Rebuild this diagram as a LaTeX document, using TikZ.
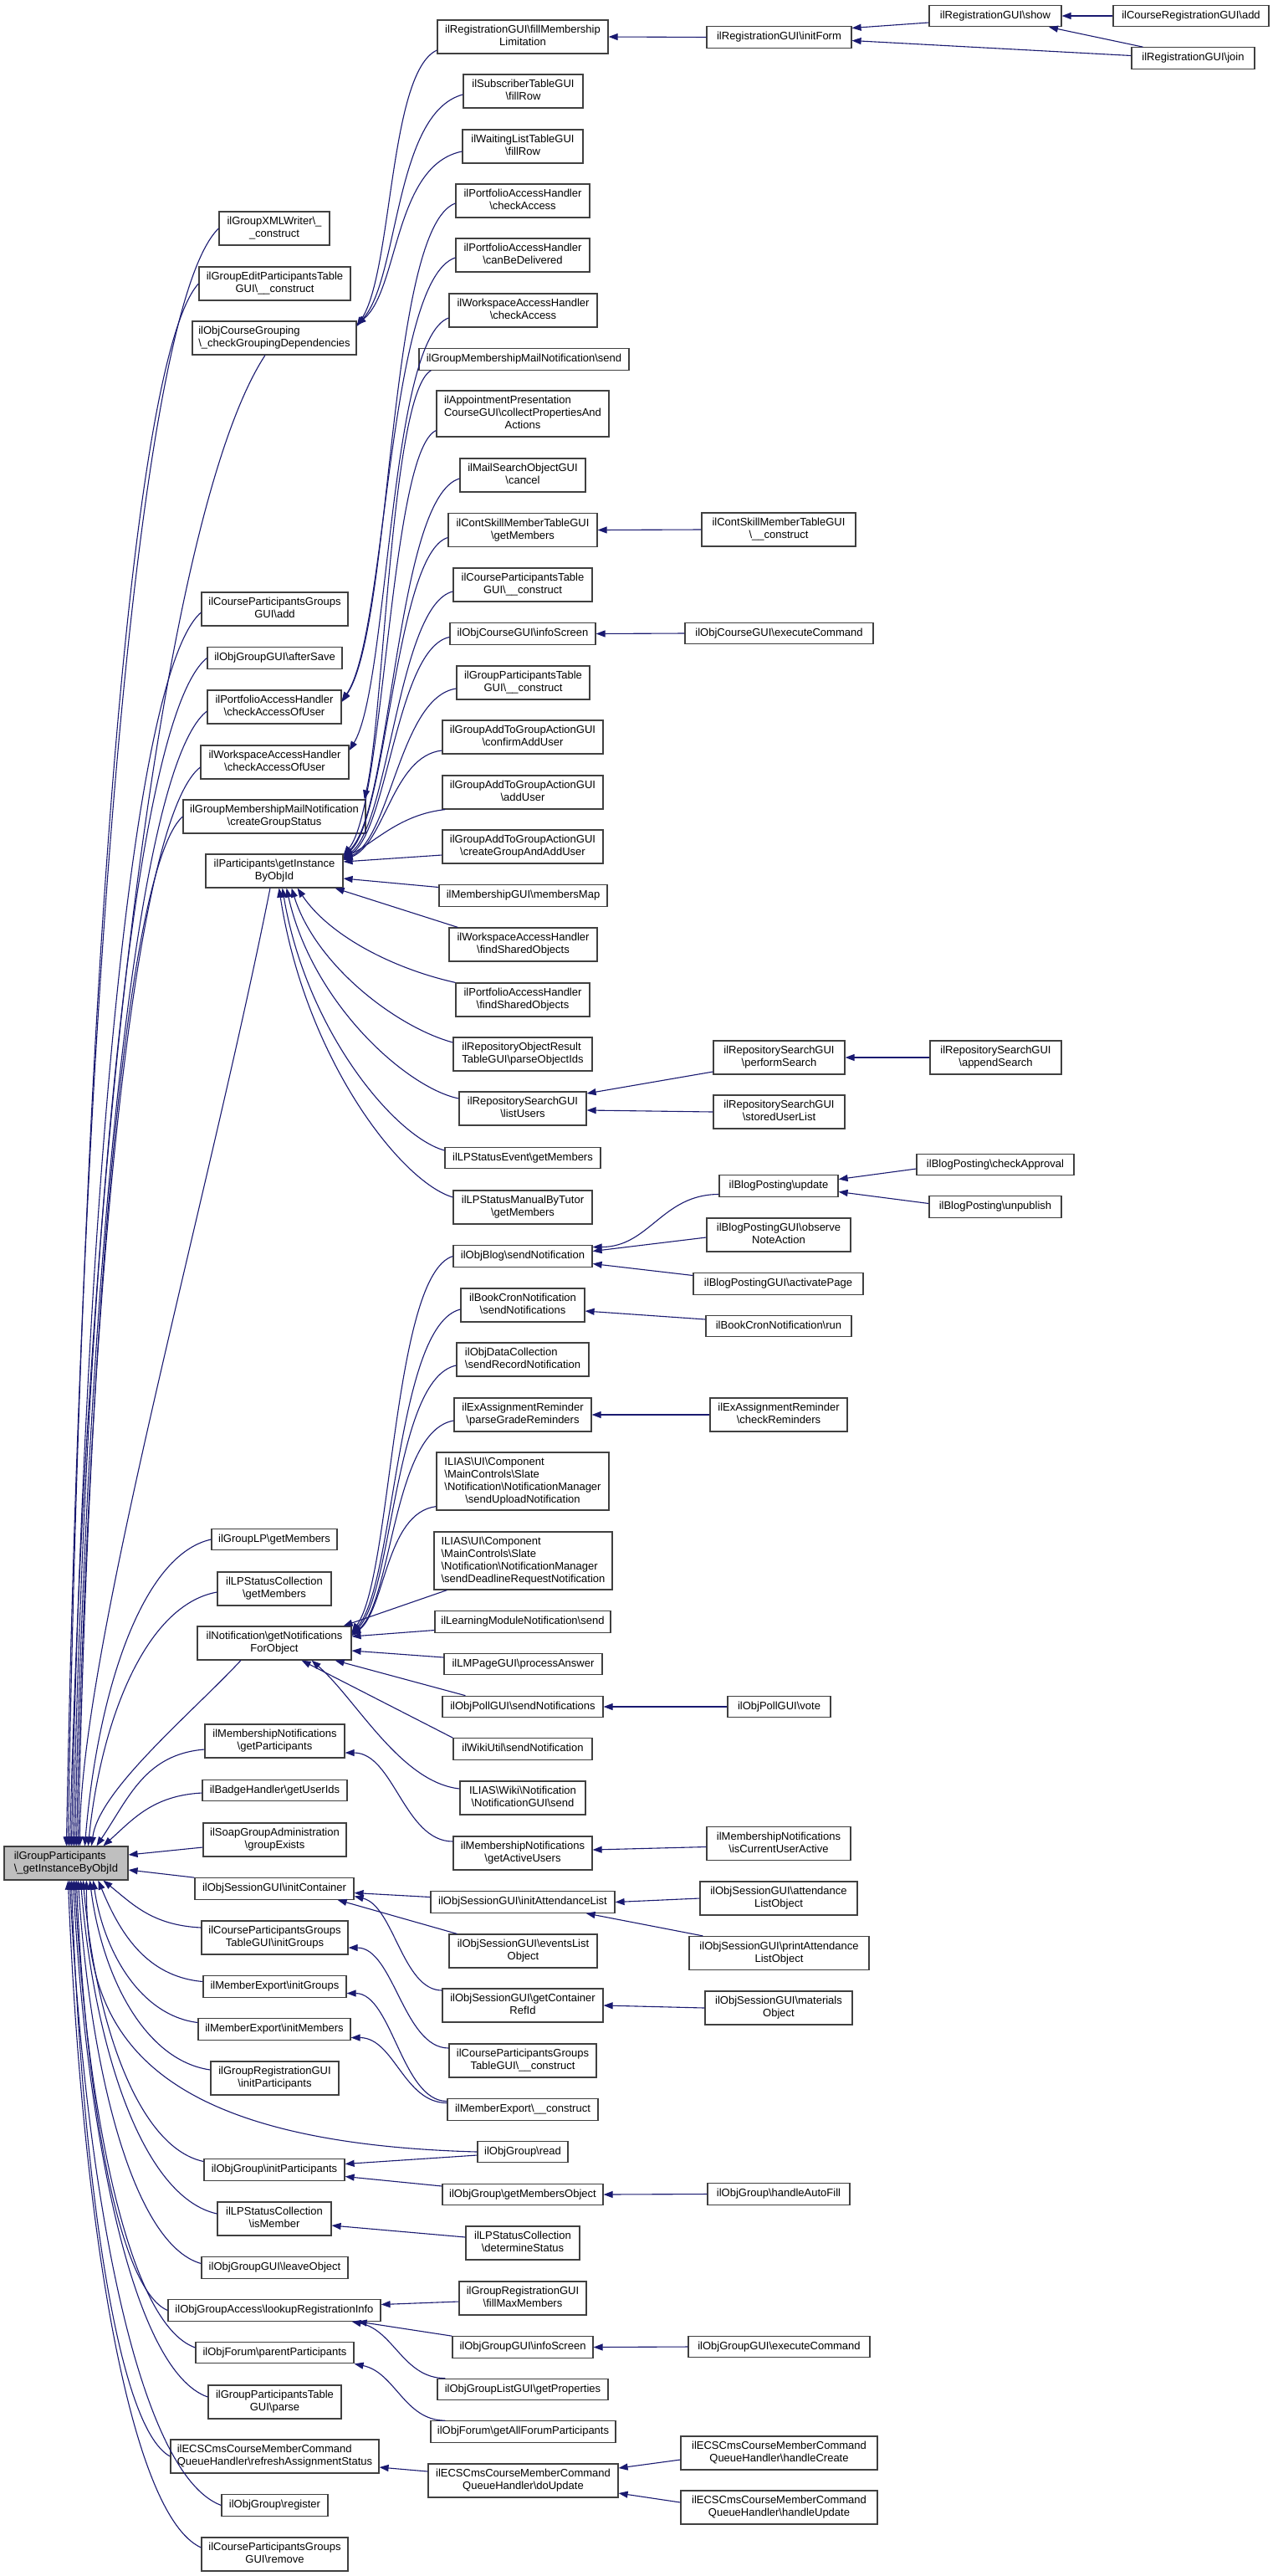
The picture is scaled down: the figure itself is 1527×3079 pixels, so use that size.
\documentclass[tikz,border=0pt]{standalone}
\usepackage{fontspec}
\setmainfont{Liberation Sans}
\usetikzlibrary{arrows.meta,calc}
\definecolor{edgec}{RGB}{25,25,112}
\newcommand\bsl{\textbackslash}
\newcommand\TL[2]{\begin{tabular}{@{}l@{}}#1\\\multicolumn{1}{@{}c@{}}{#2}\end{tabular}}
\newcommand\SL[1]{\begin{tabular}{@{}c@{}}#1\end{tabular}}
\newcommand\nd[6]{\node[box,minimum width=#4pt,minimum height=#5pt] (#1) at (#2,#3) {#6};}
\newcommand\cc[6]{\draw[e] let \p1=#1, \p2=#2 in (\p1) .. controls ({\x1+#3*((\x2)-(\x1))},{\y1+#4*((\y2)-(\y1))}) and ({\x2+#5*((\x1)-(\x2))},{\y2+#6*((\y1)-(\y2))}) .. (\p2);}
\tikzset{
 box/.style={draw=black!75, line width=1.2pt, fill=white, inner sep=0pt, rectangle, font=\fontsize{13}{15}\selectfont},
 e/.style={draw=edgec, line width=1.1pt, -{Triangle[length=11pt,width=8pt]}},
}
\begin{document}
\begin{tikzpicture}[x=1pt,y=-1pt]
\fill[white] (0,0) rectangle (1527,3079);
\useasboundingbox (0,0) rectangle (1527,3079);
% ---------- main node
\node[box,fill=black!25,minimum width=148pt,minimum height=40pt] (G) at (79,2227) {\TL{ilGroupParticipants}{\bsl\_getInstanceByObjId}};
% ---------- top chain
\nd{cra}{1424}{19}{186}{25.5}{\SL{ilCourseRegistrationGUI\bsl{}add}}
\nd{show}{1190}{19}{158}{25.5}{\SL{ilRegistrationGUI\bsl{}show}}
\nd{join}{1426.5}{69.5}{147}{25.5}{\SL{ilRegistrationGUI\bsl{}join}}
\nd{initForm}{931.5}{44.5}{173}{25.5}{\SL{ilRegistrationGUI\bsl{}initForm}}
% ---------- column 3
\nd{fml}{625}{44}{204}{40}{\TL{ilRegistrationGUI\bsl{}fillMembership}{Limitation}}
\nd{sub}{625.5}{109}{143}{40}{\TL{ilSubscriberTableGUI}{\bsl{}fillRow}}
\nd{wait}{625}{175}{144}{40}{\TL{ilWaitingListTableGUI}{\bsl{}fillRow}}
\nd{pca}{625}{240}{160}{40}{\TL{ilPortfolioAccessHandler}{\bsl{}checkAccess}}
\nd{pcd}{625}{305}{160}{40}{\TL{ilPortfolioAccessHandler}{\bsl{}canBeDelivered}}
\nd{wca}{625.5}{371}{177}{40}{\TL{ilWorkspaceAccessHandler}{\bsl{}checkAccess}}
\nd{gms}{626.5}{429.5}{251}{25.5}{\SL{ilGroupMembershipMailNotification\bsl{}send}}
\nd{app}{625}{494.5}{206}{55}{\TL{ilAppointmentPresentation\\CourseGUI\bsl{}collectPropertiesAnd}{Actions}}
\nd{mso}{625}{568}{150}{40}{\TL{ilMailSearchObjectGUI}{\bsl{}cancel}}
\nd{csg}{625}{633.5}{178}{40}{\TL{ilContSkillMemberTableGUI}{\bsl{}getMembers}}
\nd{cpt}{625}{699}{166}{40}{\TL{ilCourseParticipantsTable}{GUI\bsl\_\_construct}}
\nd{oci}{625}{757.5}{174}{25.5}{\SL{ilObjCourseGUI\bsl{}infoScreen}}
\nd{gpt}{625.5}{816}{159}{40}{\TL{ilGroupParticipantsTable}{GUI\bsl\_\_construct}}
\nd{gac}{625}{881}{192}{40}{\TL{ilGroupAddToGroupActionGUI}{\bsl{}confirmAddUser}}
\nd{gaa}{625}{947}{192}{40}{\TL{ilGroupAddToGroupActionGUI}{\bsl{}addUser}}
\nd{gag}{625}{1012}{192}{40}{\TL{ilGroupAddToGroupActionGUI}{\bsl{}createGroupAndAddUser}}
\nd{mgm}{625.5}{1070.5}{201}{25.5}{\SL{ilMembershipGUI\bsl{}membersMap}}
\nd{wfs}{625.5}{1129}{177}{40}{\TL{ilWorkspaceAccessHandler}{\bsl{}findSharedObjects}}
\nd{pfs}{625}{1195}{160}{40}{\TL{ilPortfolioAccessHandler}{\bsl{}findSharedObjects}}
\nd{rpo}{625}{1260}{166}{40}{\TL{ilRepositoryObjectResult}{TableGUI\bsl{}parseObjectIds}}
\nd{rlu}{625}{1325}{152}{40}{\TL{ilRepositorySearchGUI}{\bsl{}listUsers}}
\nd{lpe}{625}{1384}{186}{25.5}{\SL{ilLPStatusEvent\bsl{}getMembers}}
\nd{lpm}{625}{1443}{166}{40}{\TL{ilLPStatusManualByTutor}{\bsl{}getMembers}}
\nd{obs}{625}{1501.5}{166}{25.5}{\SL{ilObjBlog\bsl{}sendNotification}}
\nd{bcs}{625}{1560}{148}{40}{\TL{ilBookCronNotification}{\bsl{}sendNotifications}}
\nd{dcs}{625}{1625}{158}{40}{\TL{ilObjDataCollection}{\bsl{}sendRecordNotification}}
\nd{exp}{625}{1691}{164}{40}{\TL{ilExAssignmentReminder}{\bsl{}parseGradeReminders}}
\nd{ilu}{625}{1770.5}{206}{69}{\TL{ILIAS\bsl{}UI\bsl{}Component\\\bsl{}MainControls\bsl{}Slate\\\bsl{}Notification\bsl{}NotificationManager}{\bsl{}sendUploadNotification}}
\nd{ild}{625.5}{1865.5}{213}{69}{\TL{ILIAS\bsl{}UI\bsl{}Component\\\bsl{}MainControls\bsl{}Slate\\\bsl{}Notification\bsl{}NotificationManager}{\bsl{}sendDeadlineRequestNotification}}
\nd{lmn}{625}{1938.5}{210}{25.5}{\SL{ilLearningModuleNotification\bsl{}send}}
\nd{lmp}{625.5}{1989}{189}{25.5}{\SL{ilLMPageGUI\bsl{}processAnswer}}
\nd{ops}{625}{2040}{192}{25.5}{\SL{ilObjPollGUI\bsl{}sendNotifications}}
\nd{wik}{625}{2090.5}{166}{25.5}{\SL{ilWikiUtil\bsl{}sendNotification}}
\nd{iwn}{625}{2149}{150}{40}{\TL{ILIAS\bsl{}Wiki\bsl{}Notification}{\bsl{}NotificationGUI\bsl{}send}}
\nd{mau}{625}{2215}{166}{40}{\TL{ilMembershipNotifications}{\bsl{}getActiveUsers}}
\nd{sal}{625}{2273.5}{220}{25.5}{\SL{ilObjSessionGUI\bsl{}initAttendanceList}}
\nd{sel}{625.5}{2332}{177}{40}{\TL{ilObjSessionGUI\bsl{}eventsList}{Object}}
\nd{scr}{625}{2397}{192}{40}{\TL{ilObjSessionGUI\bsl{}getContainer}{RefId}}
\nd{cgc}{625}{2463}{176}{40}{\TL{ilCourseParticipantsGroups}{TableGUI\bsl\_\_construct}}
\nd{mec}{625}{2521.5}{180}{25.5}{\SL{ilMemberExport\bsl\_\_construct}}
\nd{ogr}{625}{2572}{108}{25.5}{\SL{ilObjGroup\bsl{}read}}
\nd{ogm}{625}{2623}{192}{25.5}{\SL{ilObjGroup\bsl{}getMembersObject}}
\nd{lds}{625}{2681}{136}{40}{\TL{ilLPStatusCollection}{\bsl{}determineStatus}}
\nd{gfm}{625}{2747}{152}{40}{\TL{ilGroupRegistrationGUI}{\bsl{}fillMaxMembers}}
\nd{ggi}{625}{2805.5}{168}{25.5}{\SL{ilObjGroupGUI\bsl{}infoScreen}}
\nd{glp}{625}{2856}{204}{25.5}{\SL{ilObjGroupListGUI\bsl{}getProperties}}
\nd{ofa}{625.5}{2906.5}{221}{25.5}{\SL{ilObjForum\bsl{}getAllForumParticipants}}
\nd{edu}{625.5}{2965}{227}{40}{\TL{ilECSCmsCourseMemberCommand}{QueueHandler\bsl{}doUpdate}}
% ---------- column 2
\nd{gxw}{328}{273}{132}{40}{\TL{ilGroupXMLWriter\bsl\_}{\_construct}}
\nd{gep}{328.5}{339}{181}{40}{\TL{ilGroupEditParticipantsTable}{GUI\bsl\_\_construct}}
\nd{ocg}{328}{404}{196}{40}{\TL{ilObjCourseGrouping}{\bsl\_checkGroupingDependencies}}
\nd{cga}{328.5}{728}{175}{40}{\TL{ilCourseParticipantsGroups}{GUI\bsl{}add}}
\nd{oga}{328.5}{786.5}{161}{25.5}{\SL{ilObjGroupGUI\bsl{}afterSave}}
\nd{pau}{328}{845}{160}{40}{\TL{ilPortfolioAccessHandler}{\bsl{}checkAccessOfUser}}
\nd{wau}{328.5}{911}{177}{40}{\TL{ilWorkspaceAccessHandler}{\bsl{}checkAccessOfUser}}
\nd{gcs}{328}{976}{218}{40}{\TL{ilGroupMembershipMailNotification}{\bsl{}createGroupStatus}}
\nd{P}{328}{1041}{164}{40}{\TL{ilParticipants\bsl{}getInstance}{ByObjId}}
\nd{glm}{328}{1840}{150}{25.5}{\SL{ilGroupLP\bsl{}getMembers}}
\nd{lcm}{328}{1899}{136}{40}{\TL{ilLPStatusCollection}{\bsl{}getMembers}}
\nd{N}{328}{1964}{184}{40}{\TL{ilNotification\bsl{}getNotifications}{ForObject}}
\nd{mnp}{328.5}{2081}{167}{40}{\TL{ilMembershipNotifications}{\bsl{}getParticipants}}
\nd{bhu}{328.5}{2140}{173}{25.5}{\SL{ilBadgeHandler\bsl{}getUserIds}}
\nd{sge}{328.5}{2199}{171}{40}{\TL{ilSoapGroupAdministration}{\bsl{}groupExists}}
\nd{sic}{328}{2257.5}{190}{25.5}{\SL{ilObjSessionGUI\bsl{}initContainer}}
\nd{cgi}{328.5}{2316}{175}{40}{\TL{ilCourseParticipantsGroups}{TableGUI\bsl{}initGroups}}
\nd{meg}{328.5}{2374.5}{171}{25.5}{\SL{ilMemberExport\bsl{}initGroups}}
\nd{mem}{328}{2425.5}{182}{25.5}{\SL{ilMemberExport\bsl{}initMembers}}
\nd{grp}{328.5}{2484}{153}{40}{\TL{ilGroupRegistrationGUI}{\bsl{}initParticipants}}
\nd{ogp}{328}{2593.5}{168}{25.5}{\SL{ilObjGroup\bsl{}initParticipants}}
\nd{lim}{328}{2652}{136}{40}{\TL{ilLPStatusCollection}{\bsl{}isMember}}
\nd{glo}{328.5}{2710.5}{175}{25.5}{\SL{ilObjGroupGUI\bsl{}leaveObject}}
\nd{gal}{328}{2761.5}{254}{25.5}{\SL{ilObjGroupAccess\bsl{}lookupRegistrationInfo}}
\nd{ofp}{328.5}{2812}{189}{25.5}{\SL{ilObjForum\bsl{}parentParticipants}}
\nd{gpp}{328.5}{2871}{159}{40}{\TL{ilGroupParticipantsTable}{GUI\bsl{}parse}}
\nd{era}{328.5}{2936}{249}{40}{\TL{ilECSCmsCourseMemberCommand}{QueueHandler\bsl{}refreshAssignmentStatus}}
\nd{ogrg}{328.5}{2994.5}{127}{25.5}{\SL{ilObjGroup\bsl{}register}}
\nd{cgr}{328.5}{3053}{175}{40}{\TL{ilCourseParticipantsGroups}{GUI\bsl{}remove}}
% ---------- column 4
\nd{csc}{931}{633}{184}{40}{\TL{ilContSkillMemberTableGUI}{\bsl\_\_construct}}
\nd{oce}{931.5}{757}{225}{25.5}{\SL{ilObjCourseGUI\bsl{}executeCommand}}
\nd{rps}{931.5}{1264}{157}{40}{\TL{ilRepositorySearchGUI}{\bsl{}performSearch}}
\nd{rsu}{931.5}{1329}{157}{40}{\TL{ilRepositorySearchGUI}{\bsl{}storedUserList}}
\nd{bpu}{931}{1417.5}{142}{25.5}{\SL{ilBlogPosting\bsl{}update}}
\nd{bpo}{931}{1476}{172}{40}{\TL{ilBlogPostingGUI\bsl{}observe}{NoteAction}}
\nd{bpa}{930.5}{1534.5}{203}{25.5}{\SL{ilBlogPostingGUI\bsl{}activatePage}}
\nd{bcr}{931}{1585}{174}{25.5}{\SL{ilBookCronNotification\bsl{}run}}
\nd{exc}{931}{1691}{164}{40}{\TL{ilExAssignmentReminder}{\bsl{}checkReminders}}
\nd{opv}{931.5}{2040}{123}{25.5}{\SL{ilObjPollGUI\bsl{}vote}}
\nd{mca}{931}{2203.5}{172}{40}{\TL{ilMembershipNotifications}{\bsl{}isCurrentUserActive}}
\nd{sao}{931}{2269}{188}{40}{\TL{ilObjSessionGUI\bsl{}attendance}{ListObject}}
\nd{spa}{931.5}{2334.5}{215}{40}{\TL{ilObjSessionGUI\bsl{}printAttendance}{ListObject}}
\nd{smo}{931}{2400}{176}{40}{\TL{ilObjSessionGUI\bsl{}materials}{Object}}
\nd{oha}{931}{2622.5}{170}{25.5}{\SL{ilObjGroup\bsl{}handleAutoFill}}
\nd{gex}{931.5}{2805}{217}{25.5}{\SL{ilObjGroupGUI\bsl{}executeCommand}}
\nd{ehc}{931.5}{2932}{235}{40}{\TL{ilECSCmsCourseMemberCommand}{QueueHandler\bsl{}handleCreate}}
\nd{ehu}{931.5}{2997}{235}{40}{\TL{ilECSCmsCourseMemberCommand}{QueueHandler\bsl{}handleUpdate}}
% ---------- column 5
\nd{ras}{1190.5}{1264}{157}{40}{\TL{ilRepositorySearchGUI}{\bsl{}appendSearch}}
\nd{bca}{1190}{1392}{188}{25.5}{\SL{ilBlogPosting\bsl{}checkApproval}}
\nd{bun}{1190}{1442.5}{158}{25.5}{\SL{ilBlogPosting\bsl{}unpublish}}
% ================= edges
% top chain
\draw[e] (initForm.west) -- (fml.east);
\draw[e] ([yshift=-8pt]show.west) -- ([yshift=11pt]initForm.east);
\draw[e] ([yshift=3pt]join.west) -- ([yshift=-4pt]initForm.east);
\draw[e] ([xshift=-60pt]join.north) -- ([xshift=64pt]show.south);
\draw[e] (cra.west) -- (show.east);
% into checkGroupingDependencies
\cc{([yshift=-16pt]fml.west)}{([yshift=14pt]ocg.east)}{0.6}{0.08}{0.45}{0.2}
\cc{([yshift=-4pt]sub.west)}{([yshift=15pt]ocg.east)}{0.65}{0.08}{0.4}{0.2}
\cc{([yshift=-6pt]wait.west)}{([yshift=16pt]ocg.east)}{0.65}{0.08}{0.4}{0.2}
% access handlers, mail notification
\cc{([yshift=-3pt]pca.west)}{([yshift=6pt]pau.east)}{0.6}{0.05}{0.45}{0.15}
\cc{([yshift=-3pt]pcd.west)}{([yshift=7pt]pau.east)}{0.6}{0.05}{0.4}{0.15}
\cc{([yshift=-9pt]wca.west)}{([yshift=14pt]wau.east)}{0.6}{0.05}{0.4}{0.15}
\cc{([xshift=15pt]gms.south west)}{([xshift=-2pt]gcs.north east)}{0.6}{0.05}{0.3}{0.2}
% into ilParticipants
\cc{([yshift=-20pt]app.west)}{([yshift=19pt]P.east)}{0.5}{0.05}{0.45}{0.12}
\cc{([yshift=-4pt]mso.west)}{([yshift=18pt]P.east)}{0.55}{0.05}{0.42}{0.12}
\cc{([yshift=-9pt]csg.west)}{([yshift=17pt]P.east)}{0.5}{0.05}{0.42}{0.12}
\cc{([yshift=-8pt]cpt.west)}{([yshift=16pt]P.east)}{0.5}{0.05}{0.42}{0.12}
\cc{([yshift=-4pt]oci.west)}{([yshift=15pt]P.east)}{0.5}{0.05}{0.42}{0.12}
\cc{([yshift=-7pt]gpt.west)}{([yshift=14pt]P.east)}{0.5}{0.05}{0.42}{0.12}
\cc{([yshift=-16pt]gac.west)}{([yshift=13pt]P.east)}{0.5}{0.05}{0.42}{0.15}
\cc{([xshift=4pt]gaa.south west)}{([yshift=16pt]P.east)}{0.45}{0.1}{0.3}{0.3}
\draw[e] ([yshift=-10pt]gag.west) -- ([yshift=11pt]P.east);
\draw[e] ([yshift=10pt]mgm.west) -- ([yshift=-9pt]P.east);
\draw[e] ([xshift=11pt]wfs.north west) -- ([xshift=-10pt]P.south east);
\cc{(pfs.north west)}{([xshift=-55pt]P.south east)}{0.4}{0.15}{0.2}{0.5}
\cc{([yshift=14pt]rpo.west)}{([xshift=-62pt]P.south east)}{0.35}{0.1}{0.15}{0.5}
\cc{([yshift=12pt]rlu.west)}{([xshift=-68pt]P.south east)}{0.3}{0.05}{0.15}{0.55}
\cc{([yshift=9pt]lpe.west)}{([xshift=-73pt]P.south east)}{0.3}{0.05}{0.15}{0.55}
\cc{([yshift=12pt]lpm.west)}{([xshift=-77pt]P.south east)}{0.3}{0.05}{0.15}{0.55}
% into ilNotification
\cc{(obs.west)}{([yshift=13pt]N.east)}{0.6}{0.05}{0.4}{0.15}
\cc{([yshift=-5pt]bcs.west)}{([yshift=12pt]N.east)}{0.6}{0.05}{0.4}{0.15}
\cc{([yshift=-7pt]dcs.west)}{([yshift=11pt]N.east)}{0.6}{0.05}{0.4}{0.15}
\cc{([yshift=-7pt]exp.west)}{([yshift=10pt]N.east)}{0.6}{0.05}{0.4}{0.15}
\cc{([yshift=5pt]ilu.south west)}{([yshift=9pt]N.east)}{0.6}{0.05}{0.4}{0.2}
\draw[e] ([xshift=16pt]ild.south west) -- ([xshift=-10pt]N.north east);
\draw[e] ([yshift=-10pt]lmn.west) -- ([yshift=8pt]N.east);
\draw[e] ([yshift=8pt]lmp.west) -- ([yshift=-9pt]N.east);
\draw[e] ([xshift=28pt]ops.north west) -- ([xshift=-20pt]N.south east);
\draw[e] (wik.north west) -- ([xshift=-60pt]N.south east);
\cc{([yshift=11pt]iwn.west)}{([xshift=-48pt]N.south east)}{0.4}{0.05}{0.3}{0.3}
% membership notifications
\cc{([yshift=14pt]mau.west)}{([yshift=-14pt]mnp.east)}{0.45}{0}{0.45}{0}
\draw[e] ([yshift=-4pt]mca.west) -- ([yshift=4pt]mau.east);
% session
\draw[e] ([yshift=6pt]sal.west) -- ([yshift=-5pt]sic.east);
\draw[e] ([xshift=10pt]sel.north west) -- ([xshift=-20pt]sic.south east);
\cc{([yshift=18pt]scr.west)}{([yshift=-9pt]sic.east)}{0.45}{0}{0.45}{0.1}
\draw[e] (sao.west) -- (sal.east);
\draw[e] ([xshift=17pt]spa.north west) -- ([xshift=-35pt]sal.south east);
\draw[e] (smo.west) -- (scr.east);
% groups / member export
\cc{([yshift=15pt]cgc.west)}{([yshift=-12pt]cgi.east)}{0.45}{0}{0.45}{0}
\cc{([yshift=10pt]mec.west)}{([yshift=-8pt]meg.east)}{0.45}{0}{0.45}{0}
\cc{([yshift=8pt]mec.west)}{([yshift=-10pt]mem.east)}{0.45}{0}{0.45}{0}
% obj group
\draw[e] ([yshift=-4pt]ogr.west) -- ([yshift=7pt]ogp.east);
\draw[e] ([yshift=10pt]ogm.west) -- ([yshift=-8pt]ogp.east);
\draw[e] (oha.west) -- (ogm.east);
\draw[e] ([yshift=7pt]lds.west) -- ([yshift=-8pt]lim.east);
\draw[e] ([yshift=-4pt]gfm.west) -- ([yshift=7pt]gal.east);
\draw[e] (ggi.north west) -- ([xshift=-28pt]gal.south east);
\cc{([xshift=10pt]glp.north west)}{([xshift=-35pt]gal.south east)}{0.45}{0}{0.45}{0.15}
\draw[e] (gex.west) -- (ggi.east);
\cc{([xshift=18pt]ofa.north west)}{(ofp.south east)}{0.45}{0}{0.45}{0.15}
\draw[e] ([yshift=11pt]edu.west) -- ([yshift=-13pt]era.east);
\draw[e] ([yshift=-8pt]ehc.west) -- ([yshift=15pt]edu.east);
\draw[e] ([yshift=6pt]ehu.west) -- ([yshift=-15pt]edu.east);
% columns 4/5
\draw[e] (csc.west) -- (csg.east);
\draw[e] (oce.west) -- (oci.east);
\draw[e] ([yshift=-17pt]rps.west) -- ([yshift=18pt]rlu.east);
\draw[e] (rsu.west) -- ([yshift=-2pt]rlu.east);
\draw[e] (ras.west) -- (rps.east);
\draw[e] ([yshift=-5pt]bca.west) -- ([yshift=8pt]bpu.east);
\draw[e] ([yshift=4pt]bun.west) -- ([yshift=-7pt]bpu.east);
\cc{([yshift=-10pt]bpu.west)}{([yshift=11pt]obs.east)}{0.45}{0}{0.45}{0}
\draw[e] ([yshift=-3pt]bpo.west) -- ([yshift=6pt]obs.east);
\draw[e] ([yshift=10pt]bpa.west) -- ([yshift=-9pt]obs.east);
\draw[e] ([yshift=8pt]bcr.west) -- ([yshift=-7pt]bcs.east);
\draw[e] (exc.west) -- (exp.east);
\draw[e] (opv.west) -- (ops.east);
% into ilGroupParticipants (from above)
\cc{(gxw.west)}{([xshift=75pt]G.north west)}{0.55}{0.05}{0.1}{0.5}
\cc{(gep.west)}{([xshift=77pt]G.north west)}{0.55}{0.05}{0.1}{0.5}
\cc{([xshift=-11pt]ocg.south)}{([xshift=79pt]G.north west)}{0.5}{0.1}{0.1}{0.5}
\cc{([yshift=-4pt]cga.west)}{([xshift=81pt]G.north west)}{0.55}{0.05}{0.1}{0.5}
\cc{(oga.west)}{([xshift=83pt]G.north west)}{0.55}{0.05}{0.1}{0.5}
\cc{([yshift=-5pt]pau.west)}{([xshift=85pt]G.north west)}{0.55}{0.05}{0.1}{0.5}
\cc{([yshift=-6pt]wau.west)}{([xshift=87pt]G.north west)}{0.55}{0.05}{0.1}{0.5}
\cc{(gcs.west)}{([xshift=89pt]G.north west)}{0.55}{0.05}{0.1}{0.5}
\cc{([xshift=-5pt]P.south)}{([xshift=91pt]G.north west)}{0.33}{0.33}{0}{0.2}
\cc{(glm.west)}{([xshift=97pt]G.north west)}{0.55}{0.05}{0.1}{0.5}
\cc{([yshift=-4pt]lcm.west)}{([xshift=101pt]G.north west)}{0.55}{0.05}{0.1}{0.5}
\cc{([xshift=-40pt]N.south)}{([xshift=105pt]G.north west)}{0.35}{0.3}{0.05}{0.3}
\cc{([yshift=-10pt]mnp.west)}{([xshift=111pt]G.north west)}{0.55}{0.05}{0.3}{0.5}
\cc{([yshift=-3pt]bhu.west)}{([xshift=119pt]G.north west)}{0.5}{0.05}{0.3}{0.5}
\draw[e] ([yshift=-9pt]sge.west) -- ([yshift=10pt]G.east);
\draw[e] (sic.north west) -- ([yshift=-8pt]G.east);
% into ilGroupParticipants (from below)
\cc{([yshift=12pt]cgi.west)}{([xshift=119pt]G.south west)}{0.5}{0.05}{0.3}{0.5}
\cc{([yshift=6pt]meg.west)}{([xshift=113pt]G.south west)}{0.55}{0.05}{0.2}{0.5}
\cc{([yshift=8pt]mem.west)}{([xshift=107pt]G.south west)}{0.55}{0.05}{0.1}{0.5}
\cc{([yshift=10pt]grp.west)}{([xshift=103pt]G.south west)}{0.55}{0.05}{0.1}{0.5}
\cc{(ogr.west)}{([xshift=99pt]G.south west)}{0.9}{0.035}{0}{0.5}
\cc{([yshift=10pt]ogp.west)}{([xshift=95pt]G.south west)}{0.55}{0.05}{0.1}{0.5}
\cc{([yshift=6pt]lim.west)}{([xshift=92pt]G.south west)}{0.55}{0.05}{0.1}{0.5}
\cc{([yshift=5pt]glo.west)}{([xshift=89pt]G.south west)}{0.55}{0.05}{0.1}{0.5}
\cc{(gal.west)}{([xshift=87pt]G.south west)}{0.55}{0.05}{0.1}{0.5}
\cc{([yshift=6pt]ofp.west)}{([xshift=85pt]G.south west)}{0.55}{0.05}{0.1}{0.5}
\cc{([yshift=6pt]gpp.west)}{([xshift=83pt]G.south west)}{0.55}{0.05}{0.1}{0.5}
\cc{(era.west)}{([xshift=81pt]G.south west)}{0.55}{0.05}{0.1}{0.5}
\cc{(ogrg.west)}{([xshift=79pt]G.south west)}{0.55}{0.05}{0.1}{0.5}
\cc{([yshift=8pt]cgr.west)}{([xshift=77pt]G.south west)}{0.55}{0.05}{0.1}{0.5}
\end{tikzpicture}
\end{document}
